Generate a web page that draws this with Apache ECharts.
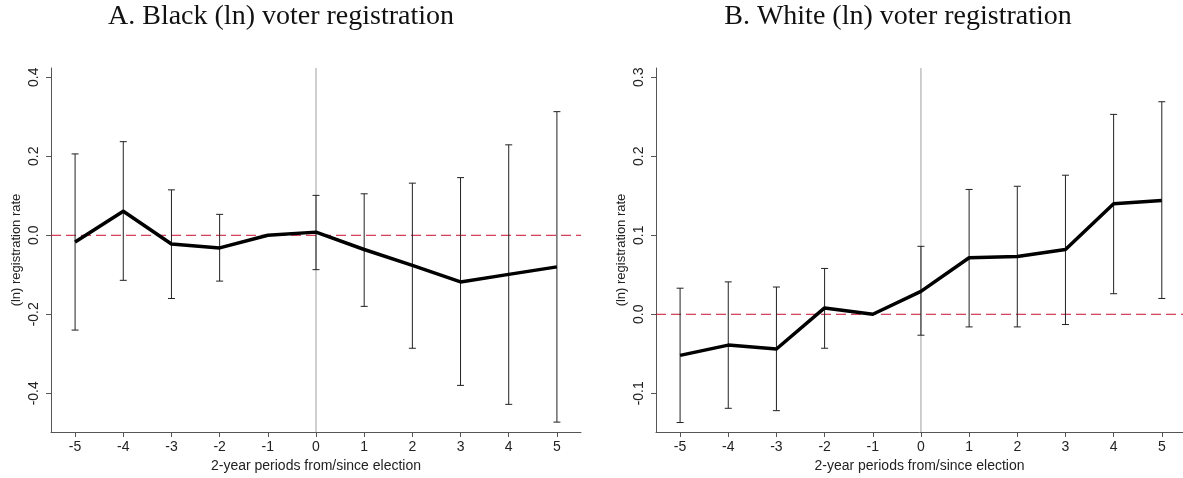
<!DOCTYPE html>
<html>
<head>
<meta charset="utf-8">
<script src="https://cdn.jsdelivr.net/npm/echarts@6/dist/echarts.min.js"></script>
<style>
html,body{margin:0;padding:0;background:#fff;}
#chart{width:1183px;height:478px;}
</style>
</head>
<body>
<div id="chart"></div>
<script>
// ---- data ----
const periods = [-5, -4, -3, -2, -1, 0, 1, 2, 3, 4, 5];
const xTicks = [-5, -4, -3, -2, -1, 0, 1, 2, 3, 4, 5];
const blackTicks = [-0.4, -0.2, 0.0, 0.2, 0.4];
const whiteTicks = [-0.1, 0.0, 0.1, 0.2, 0.3];
const blackCoef = [-0.017, 0.061, -0.022, -0.032, 0, 0.008, -0.036, -0.076, -0.118, -0.099, -0.080];
const blackLo   = [-0.240, -0.114, -0.160, -0.116, null, -0.087, -0.180, -0.286, -0.380, -0.428, -0.473];
const blackHi   = [0.206, 0.237, 0.115, 0.053, null, 0.101, 0.105, 0.132, 0.146, 0.229, 0.313];
const whiteCoef = [-0.052, -0.039, -0.044, 0.008, 0, 0.029, 0.0715, 0.073, 0.082, 0.140, 0.144];
const whiteLo   = [-0.137, -0.119, -0.122, -0.043, null, -0.0265, -0.016, -0.016, -0.013, 0.026, 0.020];
const whiteHi   = [0.033, 0.041, 0.0345, 0.058, null, 0.086, 0.158, 0.162, 0.176, 0.253, 0.269];
const refPoint = [0, 0]; // election period (x) and zero effect (y)
const titleA = 'A. Black (ln) voter registration';
const titleB = 'B. White (ln) voter registration';
const yName = '(ln) registration rate';
const xName = '2-year periods from/since election';

// ---- chart ----
const chart = echarts.init(document.getElementById('chart'), null, {renderer: 'canvas'});
const sansFont = 'Liberation Sans, Arial, sans-serif';
const axisColor = '#555';

function xAxisDef(gridIndex, max) {
  return {
    type: 'value', gridIndex: gridIndex, min: -5.5, max: max,
    name: xName, nameLocation: 'middle', nameGap: 27,
    nameTextStyle: {fontFamily: sansFont, fontSize: 14, color: '#222'},
    axisLine: {show: true, onZero: false, lineStyle: {color: axisColor, width: 1}},
    axisTick: {show: true, length: 5, lineStyle: {color: axisColor}, customValues: xTicks},
    axisLabel: {fontFamily: sansFont, fontSize: 14, color: '#222', margin: 8, customValues: xTicks,
      formatter: v => String(Math.round(v))},
    splitLine: {show: false}
  };
}
function yAxisDef(gridIndex, min, max, ticks) {
  return {
    type: 'value', gridIndex: gridIndex, min: min, max: max,
    name: yName, nameLocation: 'middle', nameGap: 28, nameRotate: 90,
    nameTextStyle: {fontFamily: sansFont, fontSize: 13, color: '#222'},
    axisLine: {show: true, onZero: false, lineStyle: {color: axisColor, width: 1}},
    axisTick: {show: true, length: 5, lineStyle: {color: axisColor}, customValues: ticks},
    axisLabel: {fontFamily: sansFont, fontSize: 14, color: '#222', rotate: 90, margin: 10, customValues: ticks,
      formatter: v => (Math.abs(v) < 1e-9 ? 0 : v).toFixed(1)},
    splitLine: {show: false}
  };
}

function errorBars(id, idx, lo, hi) {
  const data = [];
  for (let i = 0; i < periods.length; i++) {
    if (lo[i] !== null && hi[i] !== null) data.push([periods[i], lo[i], hi[i]]);
  }
  return {
    id: id, name: id,
    type: 'custom', xAxisIndex: idx, yAxisIndex: idx, z: 3,
    data: data,
    encode: {x: 0, y: [1, 2]},
    renderItem: function (params, api) {
      const x = api.value(0);
      const pLo = api.coord([x, api.value(1)]);
      const pHi = api.coord([x, api.value(2)]);
      const cw = 3.5;
      const st = {stroke: '#222', lineWidth: 1};
      return {
        type: 'group',
        children: [
          {type: 'line', shape: {x1: pLo[0], y1: pLo[1], x2: pHi[0], y2: pHi[1]}, style: st},
          {type: 'line', shape: {x1: pLo[0] - cw, y1: pLo[1], x2: pLo[0] + cw, y2: pLo[1]}, style: st},
          {type: 'line', shape: {x1: pHi[0] - cw, y1: pHi[1], x2: pHi[0] + cw, y2: pHi[1]}, style: st}
        ]
      };
    }
  };
}

// reference lines: vertical at election, dashed horizontal at zero
function refLines(id, idx) {
  return {
    id: id, name: id,
    type: 'custom', xAxisIndex: idx, yAxisIndex: idx, z: 1, silent: true,
    data: [refPoint],
    encode: {x: 0, y: 1},
    renderItem: function (params, api) {
      const p = api.coord([api.value(0), api.value(1)]);
      const cs = params.coordSys;
      return {
        type: 'group',
        children: [
          {type: 'line', shape: {x1: p[0], y1: cs.y, x2: p[0], y2: cs.y + cs.height},
           style: {stroke: '#a0a0a0', lineWidth: 1}},
          {type: 'line', shape: {x1: cs.x, y1: p[1], x2: cs.x + cs.width, y2: p[1]},
           style: {stroke: '#c8102e', lineWidth: 1, lineDash: [10, 5]}}
        ]
      };
    }
  };
}

function mainLine(id, idx, coef) {
  return {
    id: id, name: id,
    type: 'line', xAxisIndex: idx, yAxisIndex: idx, z: 4,
    data: periods.map((p, i) => [p, coef[i]]),
    showSymbol: false, symbol: 'none',
    lineStyle: {color: '#000', width: 3.5, join: 'round'},
    animation: false
  };
}

const titleFont = '28px "Liberation Serif", "DejaVu Serif", serif';
const option = {
  backgroundColor: '#fff',
  animation: false,
  graphic: [
    {type: 'text', x: 281, y: 17, style: {text: titleA, font: titleFont, fill: '#111', textAlign: 'center', textVerticalAlign: 'middle'}},
    {type: 'text', x: 898, y: 17, style: {text: titleB, font: titleFont, fill: '#111', textAlign: 'center', textVerticalAlign: 'middle'}}
  ],
  grid: [
    {left: 51, top: 68, width: 530, height: 365, containLabel: false},
    {left: 656, top: 68, width: 527, height: 365, containLabel: false}
  ],
  xAxis: [xAxisDef(0, 5.5), xAxisDef(1, 5.44)],
  yAxis: [yAxisDef(0, -0.498, 0.4235, blackTicks), yAxisDef(1, -0.149, 0.3117, whiteTicks)],
  series: [
    refLines('refA', 0), errorBars('ciA', 0, blackLo, blackHi), mainLine('lineA', 0, blackCoef),
    refLines('refB', 1), errorBars('ciB', 1, whiteLo, whiteHi), mainLine('lineB', 1, whiteCoef)
  ]
};
chart.setOption(option);
</script>
</body>
</html>
